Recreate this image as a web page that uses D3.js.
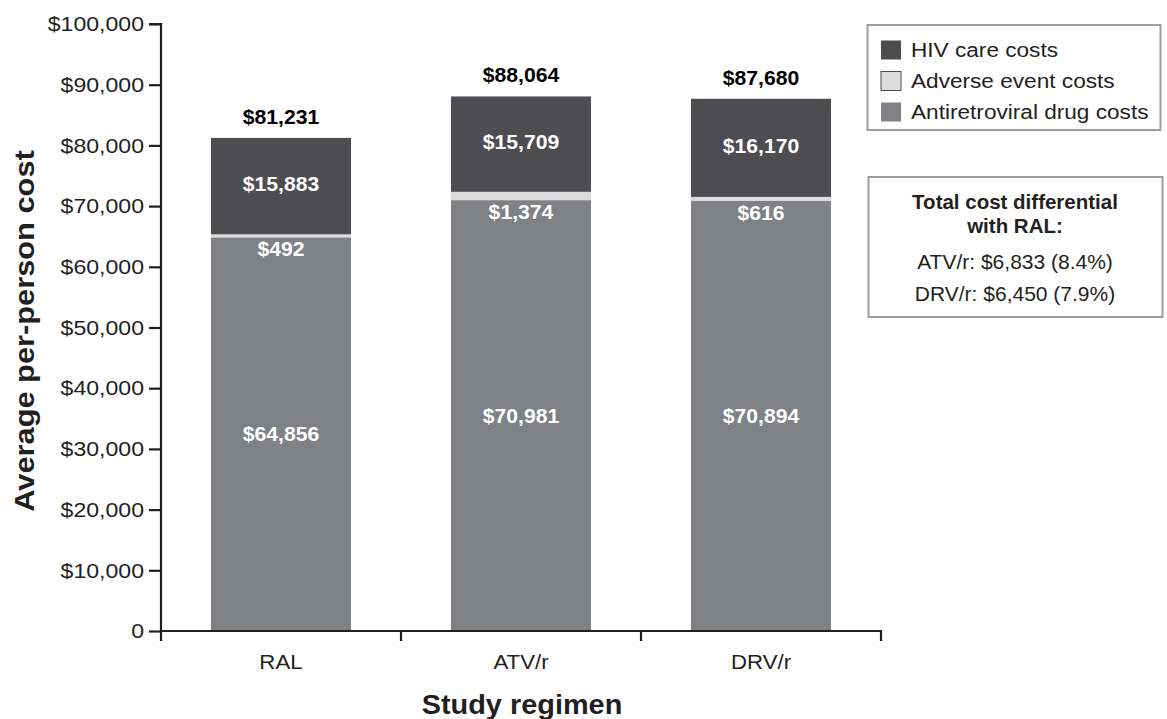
<!DOCTYPE html>
<html>
<head>
<meta charset="utf-8">
<script src="https://cdn.jsdelivr.net/npm/d3@7"></script>
<style>
  html, body { margin: 0; padding: 0; background: #fff; }
  svg { display: block; font-family: "Liberation Sans", Arial, Helvetica, sans-serif; }
</style>
</head>
<body>
<svg id="chart" width="1167" height="719"></svg>
<script>
// Study regimens and per-person cost components (USD)
const categories = ["RAL", "ATV/r", "DRV/r"];
const drugCosts = [64856, 70981, 70894];
const adverseCosts = [492, 1374, 616];
const hivCareCosts = [15883, 15709, 16170];
const totalCosts = [81231, 88064, 87680];
const yTicks = [0, 10000, 20000, 30000, 40000, 50000, 60000, 70000, 80000, 90000, 100000];

const seriesNames = ["HIV care costs", "Adverse event costs", "Antiretroviral drug costs"];
const differentialTitle = ["Total cost differential", "with RAL:"];
const differentialLines = ["ATV/r: $6,833 (8.4%)", "DRV/r: $6,450 (7.9%)"];

const colors = {
  drug: "#808184",
  adverse: "#dcdcdd",
  hiv: "#4d4d4f",
  axis: "#231f20"
};

const svg = d3.select("#chart");
const plotLeft = 161, plotRight = 881, plotTop = 24, plotBottom = 631;

const x = d3.scaleBand().domain(categories).range([plotLeft, plotRight])
  .paddingInner(0.4167).paddingOuter(0.4167 / 2);
const y = d3.scaleLinear().domain([0, 100000]).range([plotBottom, plotTop]);

const fmt = d3.format("$,");

// Text helper: places a label at (px, py) with an optional horizontal stretch
function label(parent, px, py, str, opt) {
  const o = Object.assign({ size: 20, weight: "normal", anchor: "middle", sx: 1, fill: "#231f20", dy: null, rotate: 0 }, opt);
  const t = parent.append("text")
    .attr("transform", `translate(${px},${py})` + (o.rotate ? ` rotate(${o.rotate})` : "") + ` scale(${o.sx},1)`)
    .attr("font-size", o.size).attr("font-weight", o.weight)
    .attr("text-anchor", o.anchor).attr("fill", o.fill)
    .text(str);
  if (o.dy !== null) t.attr("dy", o.dy);
  return t;
}

// Stack the three components
const rows = categories.map((c, i) => ({
  cat: c,
  drug: drugCosts[i],
  adverse: adverseCosts[i],
  hiv: hivCareCosts[i],
  total: totalCosts[i]
}));
const stack = d3.stack().keys(["drug", "adverse", "hiv"]);
const layers = stack(rows);

svg.append("g").selectAll("g.layer").data(layers).join("g")
  .attr("class", "layer")
  .attr("fill", d => colors[d.key])
  .selectAll("rect").data(d => d).join("rect")
  .attr("x", d => x(d.data.cat))
  .attr("width", x.bandwidth())
  .attr("y", d => y(d[1]))
  .attr("height", d => y(d[0]) - y(d[1]));

// Segment labels and totals
const lab = svg.append("g");
rows.forEach(r => {
  const cx = x(r.cat) + x.bandwidth() / 2;
  const segOpt = { size: 20, weight: "bold", fill: "#fff", sx: 1.06, dy: "0.35em" };
  label(lab, cx, y(r.drug / 2), fmt(r.drug), segOpt);
  label(lab, cx, y(r.drug) + 12, fmt(r.adverse), segOpt);
  label(lab, cx, y(r.drug + r.adverse + r.hiv / 2) - 2, fmt(r.hiv), segOpt);
  label(lab, cx, y(r.total) - 14, fmt(r.total), { size: 20, weight: "bold", fill: "#000", sx: 1.06 });
});

// Y axis
const tickLen = 12, tickPad = 5, tickSx = 1.1;
const yAxis = d3.axisLeft(y).tickValues(yTicks).tickSize(tickLen).tickPadding(tickPad)
  .tickFormat(d => d === 0 ? "0" : fmt(d));
const ya = svg.append("g").attr("transform", `translate(${plotLeft},0)`).call(yAxis);
ya.select(".domain").attr("stroke", colors.axis).attr("stroke-width", 2.2)
  .attr("d", `M-${tickLen},${plotTop}H0V${plotBottom}`);
ya.selectAll(".tick line").attr("stroke", colors.axis).attr("stroke-width", 2.2);
ya.selectAll(".tick text")
  .attr("font-size", 21).attr("fill", "#231f20")
  .attr("font-family", "'Liberation Sans', Arial, sans-serif")
  .attr("x", -(tickLen + tickPad) / tickSx)
  .attr("transform", `scale(${tickSx},1)`);

// X axis: baseline with ticks at category boundaries
const step = x.step();
const boundaries = categories.map(c => x(c) - x.paddingInner() * step / 2).concat([plotRight]);
const xa = svg.append("g");
xa.append("line").attr("x1", plotLeft - 1).attr("x2", plotRight + 1).attr("y1", plotBottom).attr("y2", plotBottom)
  .attr("stroke", colors.axis).attr("stroke-width", 2.2);
xa.selectAll("line.tk").data(boundaries).join("line").attr("class", "tk")
  .attr("x1", d => d).attr("x2", d => d).attr("y1", plotBottom).attr("y2", plotBottom + 10)
  .attr("stroke", colors.axis).attr("stroke-width", 2.2);
categories.forEach(c => label(xa, x(c) + x.bandwidth() / 2, 669, c, { size: 21, sx: 1.06 }));

// Axis titles
label(svg, 522, 714, "Study regimen", { size: 27, weight: "bold", sx: 1.07 });
label(svg, 34, 331, "Average per-person cost", { size: 28, weight: "bold", sx: 1.1, rotate: -90 });

// Legend
const legend = svg.append("g");
legend.append("rect").attr("x", 867.5).attr("y", 25).attr("width", 293).attr("height", 105)
  .attr("fill", "#fff").attr("stroke", "#9d9d9f").attr("stroke-width", 2);
const legendColors = [colors.hiv, colors.adverse, colors.drug];
seriesNames.forEach((n, i) => {
  const cy = 50 + i * 31;
  legend.append("rect").attr("x", 881).attr("y", cy - 9.5).attr("width", 20).attr("height", 19)
    .attr("fill", legendColors[i]).attr("stroke", i === 1 ? "#4d4d4f" : "none").attr("stroke-width", 1);
  label(legend, 911, cy, n, { size: 19.5, sx: 1.16, anchor: "start", dy: "0.35em" });
});

// Cost differential box
const box = svg.append("g");
box.append("rect").attr("x", 868.5).attr("y", 177).attr("width", 294).attr("height", 140)
  .attr("fill", "#fff").attr("stroke", "#9d9d9f").attr("stroke-width", 2);
differentialTitle.forEach((t, i) => label(box, 1015, 209 + i * 24, t, { size: 20.5, weight: "bold" }));
differentialLines.forEach((t, i) => label(box, 1015, 269 + i * 32, t, { size: 21 }));
</script>
</body>
</html>
